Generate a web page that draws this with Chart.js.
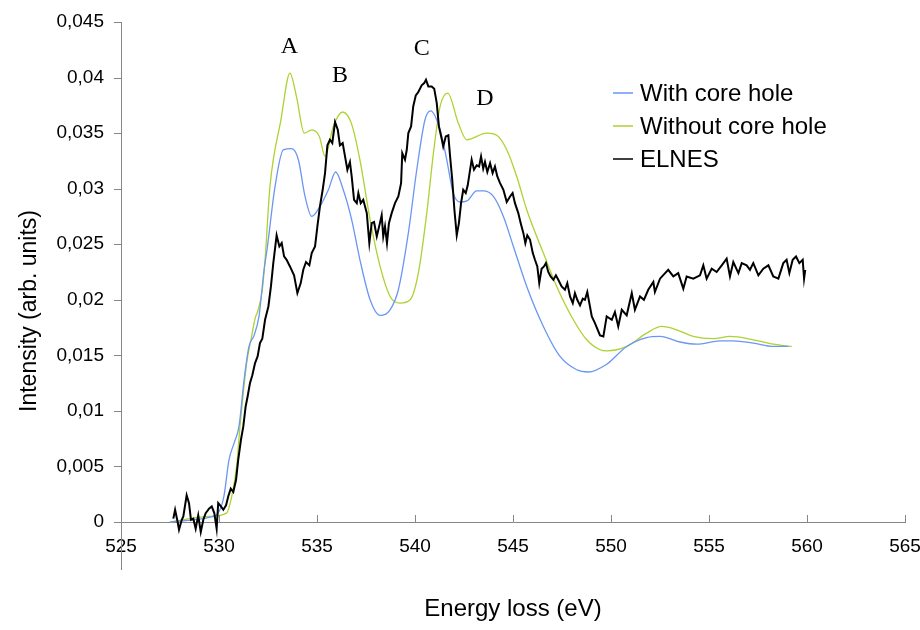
<!DOCTYPE html>
<html>
<head>
<meta charset="utf-8">
<title>ELNES</title>
<script src="https://cdn.jsdelivr.net/npm/chart.js@4.4.1/dist/chart.umd.min.js"></script>
<style>
    html, body { margin: 0; padding: 0; background: #ffffff; }
    #wrap { width: 920px; height: 630px; }
</style>
</head>
<body>
<div id="wrap"><canvas id="elnesChart" width="920" height="630"></canvas></div>
<script>
// Trục x: năng lượng mất mát (eV), trục y: cường độ
const xTicks = [525, 530, 535, 540, 545, 550, 555, 560, 565];
const yTicks = [0, 0.005, 0.01, 0.015, 0.02, 0.025, 0.03, 0.035, 0.04, 0.045];

// Tính toán có lỗ lõi (With core hole)
const withE = [527.5, 529.45, 529.95, 530.25, 530.51, 530.77, 531.02, 531.28, 531.53, 531.79,
    532.04, 532.3, 532.45, 532.86, 533.28, 533.71, 534.05, 534.39, 534.73, 535.15,
    535.58, 535.95, 536.34, 536.77, 537.19, 537.71, 538.22, 538.73, 539.15, 539.66,
    540.09, 540.51, 540.8, 541.28, 541.62, 541.95, 542.3, 542.65, 543.15, 543.49,
    544.0, 544.51, 545.02, 545.7, 546.55, 547.4, 548.25, 548.84, 549.78, 550.8,
    551.82, 552.5, 553.52, 554.37, 555.56, 556.24, 557.26, 558.28, 559.05];
const withI = [0, 0.0004, 0.0008, 0.0023, 0.0056, 0.0071, 0.0086, 0.0128, 0.0158, 0.0168,
    0.0185, 0.0227, 0.0245, 0.0302, 0.0335, 0.0336, 0.0326, 0.0293, 0.0275, 0.0284,
    0.0299, 0.0315, 0.0299, 0.0272, 0.0236, 0.0200, 0.0186, 0.0191, 0.0209, 0.0260,
    0.0317, 0.0362, 0.0370, 0.0353, 0.0326, 0.0296, 0.0288, 0.0289, 0.0298, 0.0298,
    0.0293, 0.0275, 0.0248, 0.0212, 0.0176, 0.0149, 0.0137, 0.0135, 0.0142, 0.0158,
    0.0166, 0.0167, 0.0162, 0.0160, 0.0163, 0.0163, 0.0161, 0.0158, 0.0158];

// Tính toán không có lỗ lõi (Without core hole)
const withoutE = [527.5, 529.45, 530.39, 530.65, 530.9, 531.07, 531.24, 531.41, 531.63, 531.84,
    532.0, 532.21, 532.35, 532.6, 533.16, 533.62, 533.95, 534.35, 534.73, 535.12,
    535.41, 535.83, 536.3, 536.75, 537.19, 537.71, 538.22, 538.73, 539.24, 539.75,
    540.17, 540.6, 540.94, 541.28, 541.67, 542.21, 542.64, 543.66, 544.17, 544.68,
    545.19, 545.7, 546.55, 547.23, 548.08, 548.76, 549.44, 549.78, 550.8, 551.82,
    552.58, 553.35, 554.2, 555.22, 556.07, 557.26, 558.28, 559.22];
const withoutI = [0, 0.0005, 0.0008, 0.0023, 0.0050, 0.0086, 0.0116, 0.0143, 0.0164, 0.0183,
    0.0191, 0.0209, 0.0236, 0.0302, 0.0362, 0.0404, 0.0383, 0.0350, 0.0353, 0.0347,
    0.0329, 0.0356, 0.0369, 0.0359, 0.0326, 0.0272, 0.0230, 0.0203, 0.0197, 0.0200,
    0.0224, 0.0278, 0.0332, 0.0374, 0.0386, 0.0359, 0.0344, 0.0350, 0.0348, 0.0335,
    0.0311, 0.0281, 0.0242, 0.0212, 0.0182, 0.0164, 0.0155, 0.0154, 0.0158, 0.0170,
    0.0176, 0.0173, 0.0167, 0.0165, 0.0167, 0.0164, 0.0160, 0.0158];

// Phổ đo ELNES
const elnesE = [527.67, 527.76, 527.89, 527.96, 528.10, 528.18, 528.35, 528.47, 528.57, 528.69,
    528.81, 528.94, 529.07, 529.20, 529.32, 529.49, 529.63, 529.76, 529.88, 529.96,
    530.10, 530.22, 530.36, 530.47, 530.60, 530.73, 530.87, 530.98, 531.12, 531.24,
    531.36, 531.46, 531.58, 531.70, 531.84, 531.97, 532.09, 532.21, 532.35, 532.52,
    532.65, 532.77, 532.94, 533.08, 533.20, 533.32, 533.45, 533.62, 533.83, 534.00,
    534.17, 534.30, 534.44, 534.61, 534.73, 534.90, 535.02, 535.15, 535.29, 535.41,
    535.53, 535.66, 535.78, 535.92, 536.06, 536.17, 536.31, 536.43, 536.55, 536.68,
    536.77, 536.89, 537.03, 537.11, 537.23, 537.36, 537.54, 537.67, 537.79, 537.91,
    538.05, 538.21, 538.30, 538.38, 538.47, 538.57, 538.67, 538.81, 538.98, 539.15,
    539.29, 539.35, 539.49, 539.58, 539.66, 539.80, 539.91, 540.04, 540.17, 540.34,
    540.47, 540.56, 540.68, 540.85, 540.98, 541.11, 541.22, 541.36, 541.44, 541.57,
    541.70, 541.79, 541.90, 542.01, 542.13, 542.24, 542.35, 542.46, 542.59, 542.69,
    542.81, 542.89, 543.01, 543.15, 543.27, 543.37, 543.48, 543.57, 543.69, 543.83,
    543.96, 544.08, 544.20, 544.34, 544.51, 544.68, 544.85, 544.98, 545.10, 545.27,
    545.39, 545.53, 545.63, 545.73, 545.87, 546.01, 546.12, 546.24, 546.34, 546.46,
    546.58, 546.68, 546.80, 546.92, 547.06, 547.19, 547.31, 547.48, 547.65, 547.77,
    547.91, 548.05, 548.16, 548.28, 548.42, 548.56, 548.67, 548.79, 549.02, 549.18,
    549.44, 549.61, 549.78, 550.04, 550.20, 550.37, 550.55, 550.80, 551.06, 551.22,
    551.48, 551.68, 551.90, 552.16, 552.24, 552.50, 552.76, 552.92, 553.18, 553.43,
    553.69, 553.86, 554.20, 554.54, 554.71, 554.88, 555.14, 555.39, 555.65, 555.90,
    556.07, 556.24, 556.50, 556.67, 556.92, 557.09, 557.26, 557.52, 557.77, 558.03,
    558.28, 558.54, 558.79, 558.96, 559.10, 559.27, 559.44, 559.61, 559.78, 559.85,
    559.91];
const elnesI = [0.0003, 0.0011, 0.0000, -0.0007, 0.0002, 0.0005, 0.0024, 0.0017, 0.0002, 0.0003,
    -0.0006, 0.0006, -0.0009, 0.0002, 0.0008, 0.0012, 0.0014, 0.0008, -0.0006, 0.0017,
    0.0014, 0.0011, 0.0015, 0.0023, 0.0030, 0.0027, 0.0038, 0.0056, 0.0074, 0.0086,
    0.0104, 0.0113, 0.0125, 0.0132, 0.0143, 0.0149, 0.0161, 0.0165, 0.0182, 0.0194,
    0.0212, 0.0233, 0.0258, 0.0248, 0.0251, 0.0239, 0.0236, 0.0230, 0.0222, 0.0206,
    0.0215, 0.0227, 0.0234, 0.0231, 0.0242, 0.0248, 0.0266, 0.0284, 0.0299, 0.0314,
    0.0339, 0.0344, 0.0341, 0.0360, 0.0353, 0.0339, 0.0341, 0.0329, 0.0317, 0.0324,
    0.0311, 0.0290, 0.0287, 0.0296, 0.0287, 0.0290, 0.0278, 0.0251, 0.0269, 0.0270,
    0.0257, 0.0269, 0.0276, 0.0257, 0.0266, 0.0251, 0.0269, 0.0278, 0.0287, 0.0293,
    0.0305, 0.0332, 0.0326, 0.0335, 0.0350, 0.0356, 0.0374, 0.0384, 0.0387, 0.0393,
    0.0395, 0.0398, 0.0392, 0.0392, 0.0390, 0.0377, 0.0356, 0.0345, 0.0338, 0.0347,
    0.0348, 0.0329, 0.0308, 0.0281, 0.0258, 0.0269, 0.0287, 0.0299, 0.0296, 0.0303,
    0.0317, 0.0326, 0.0317, 0.0321, 0.0320, 0.0329, 0.0318, 0.0324, 0.0315, 0.0323,
    0.0314, 0.0320, 0.0311, 0.0305, 0.0299, 0.0288, 0.0293, 0.0296, 0.0287, 0.0278,
    0.0269, 0.0260, 0.0251, 0.0258, 0.0254, 0.0242, 0.0236, 0.0230, 0.0215, 0.0228,
    0.0230, 0.0233, 0.0225, 0.0221, 0.0218, 0.0222, 0.0218, 0.0212, 0.0209, 0.0215,
    0.0203, 0.0197, 0.0206, 0.0200, 0.0195, 0.0201, 0.0200, 0.0207, 0.0185, 0.0179,
    0.0168, 0.0167, 0.0185, 0.0182, 0.0189, 0.0176, 0.0191, 0.0186, 0.0206, 0.0191,
    0.0203, 0.0200, 0.0209, 0.0216, 0.0207, 0.0219, 0.0224, 0.0227, 0.0221, 0.0224,
    0.0210, 0.0221, 0.0219, 0.0222, 0.0231, 0.0219, 0.0228, 0.0225, 0.0231, 0.0237,
    0.0221, 0.0234, 0.0224, 0.0233, 0.0231, 0.0227, 0.0233, 0.0222, 0.0228, 0.0231,
    0.0221, 0.0219, 0.0233, 0.0236, 0.0224, 0.0236, 0.0239, 0.0233, 0.0236, 0.0219,
    0.0227];

// Nhãn các đỉnh A, B, C, D (vị trí theo toạ độ dữ liệu)
const peakNames = ['A', 'B', 'C', 'D'];
const peakE = [533.59, 536.17, 540.34, 543.57];
const peakI = [0.0428, 0.0402, 0.0426, 0.0381];

const axisColor = '#868686';
const sansFont = '"Liberation Sans", Arial, sans-serif';

// Ghép hai mảng thành các điểm {x, y}
function toPoints(energies, values) {
    const n = Math.min(energies.length, values.length);
    const points = [];
    for (let i = 0; i < n; i++) {
        points.push({x: energies[i], y: values[i]});
    }
    return points;
}

// Định dạng số kiểu châu Âu: dấu phẩy thập phân
function commaFormat(value) {
    return String(parseFloat(Number(value).toFixed(4))).replace('.', ',');
}

// Vạch chia, trục y kéo dài, nhãn đỉnh, tiêu đề trục y và chú thích
const chartExtras = {
    id: 'chartExtras',
    afterDraw(chart) {
        const {ctx, scales: {x, y}} = chart;
        ctx.save();

        ctx.strokeStyle = axisColor;
        ctx.lineWidth = 1;
        ctx.beginPath();
        x.ticks.forEach(t => {
            const px = Math.round(x.getPixelForValue(t.value)) + 0.5;
            ctx.moveTo(px, y.bottom);
            ctx.lineTo(px, y.bottom - 7);
        });
        y.ticks.forEach(t => {
            const py = Math.round(y.getPixelForValue(t.value)) + 0.5;
            ctx.moveTo(x.left - 7, py);
            ctx.lineTo(x.left, py);
        });
        ctx.moveTo(Math.round(x.left) + 0.5, y.bottom);
        ctx.lineTo(Math.round(x.left) + 0.5, y.bottom + 48);
        ctx.stroke();

        // Nhãn đỉnh
        ctx.fillStyle = '#000';
        ctx.font = '24px "Liberation Serif", "Times New Roman", serif';
        ctx.textAlign = 'center';
        ctx.textBaseline = 'middle';
        peakNames.forEach((name, i) => {
            ctx.fillText(name, x.getPixelForValue(peakE[i]), y.getPixelForValue(peakI[i]));
        });

        // Tiêu đề trục y
        ctx.save();
        ctx.translate(30, 311);
        ctx.rotate(-Math.PI / 2);
        ctx.font = '23px ' + sansFont;
        ctx.fillText(chart.options.scales.y.title.text, 0, 0);
        ctx.restore();

        // Chú thích
        ctx.font = '24px ' + sansFont;
        ctx.textAlign = 'left';
        chart.data.datasets.forEach((ds, i) => {
            const rowY = 93 + i * 33;
            ctx.strokeStyle = ds.borderColor;
            ctx.lineWidth = ds.legendWidth;
            ctx.beginPath();
            ctx.moveTo(613, rowY);
            ctx.lineTo(633, rowY);
            ctx.stroke();
            ctx.fillStyle = '#000';
            ctx.fillText(ds.label, 640, rowY + 1);
        });

        ctx.restore();
    }
};

const ctx = document.getElementById('elnesChart').getContext('2d');

new Chart(ctx, {
    type: 'line',
    data: {
        datasets: [{
            label: 'With core hole',
            data: toPoints(withE, withI),
            borderColor: '#6a96f4',
            borderWidth: 1.3,
            legendWidth: 1.5,
            cubicInterpolationMode: 'monotone',
            pointRadius: 0,
            clip: false,
            order: 1
        }, {
            label: 'Without core hole',
            data: toPoints(withoutE, withoutI),
            borderColor: '#aed231',
            borderWidth: 1.3,
            legendWidth: 1.5,
            cubicInterpolationMode: 'monotone',
            pointRadius: 0,
            clip: false,
            order: 2
        }, {
            label: 'ELNES',
            data: toPoints(elnesE, elnesI),
            borderColor: '#000000',
            borderWidth: 2,
            legendWidth: 1.5,
            tension: 0,
            pointRadius: 0,
            clip: false,
            order: 0
        }]
    },
    options: {
        responsive: false,
        animation: false,
        devicePixelRatio: 1,
        layout: {
            padding: {top: 22, right: 15, left: 0, bottom: 0}
        },
        plugins: {
            legend: {display: false},
            tooltip: {enabled: false}
        },
        scales: {
            x: {
                type: 'linear',
                min: xTicks[0],
                max: xTicks[xTicks.length - 1],
                afterBuildTicks: scale => { scale.ticks = xTicks.map(v => ({value: v})); },
                afterFit: scale => {
                    scale.height = 108;
                    scale.paddingLeft = 0;
                    scale.paddingRight = 0;
                },
                grid: {display: false, drawTicks: false},
                border: {display: true, color: axisColor, width: 1},
                ticks: {
                    color: '#000',
                    padding: 13,
                    maxRotation: 0,
                    font: {family: sansFont, size: 19}
                },
                title: {
                    display: true,
                    text: 'Energy loss (eV)',
                    color: '#000',
                    font: {family: sansFont, size: 24},
                    padding: {top: 0, bottom: 6}
                }
            },
            y: {
                min: yTicks[0],
                max: yTicks[yTicks.length - 1],
                afterBuildTicks: scale => { scale.ticks = yTicks.map(v => ({value: v})); },
                afterFit: scale => {
                    scale.width = 121;
                    scale.paddingTop = 0;
                    scale.paddingBottom = 0;
                },
                grid: {display: false, drawTicks: false},
                border: {display: true, color: axisColor, width: 1},
                ticks: {
                    color: '#000',
                    padding: 17,
                    font: {family: sansFont, size: 19},
                    callback: value => commaFormat(value)
                },
                title: {
                    display: false,
                    text: 'Intensity (arb. units)'
                }
            }
        }
    },
    plugins: [chartExtras]
});
</script>
</body>
</html>
